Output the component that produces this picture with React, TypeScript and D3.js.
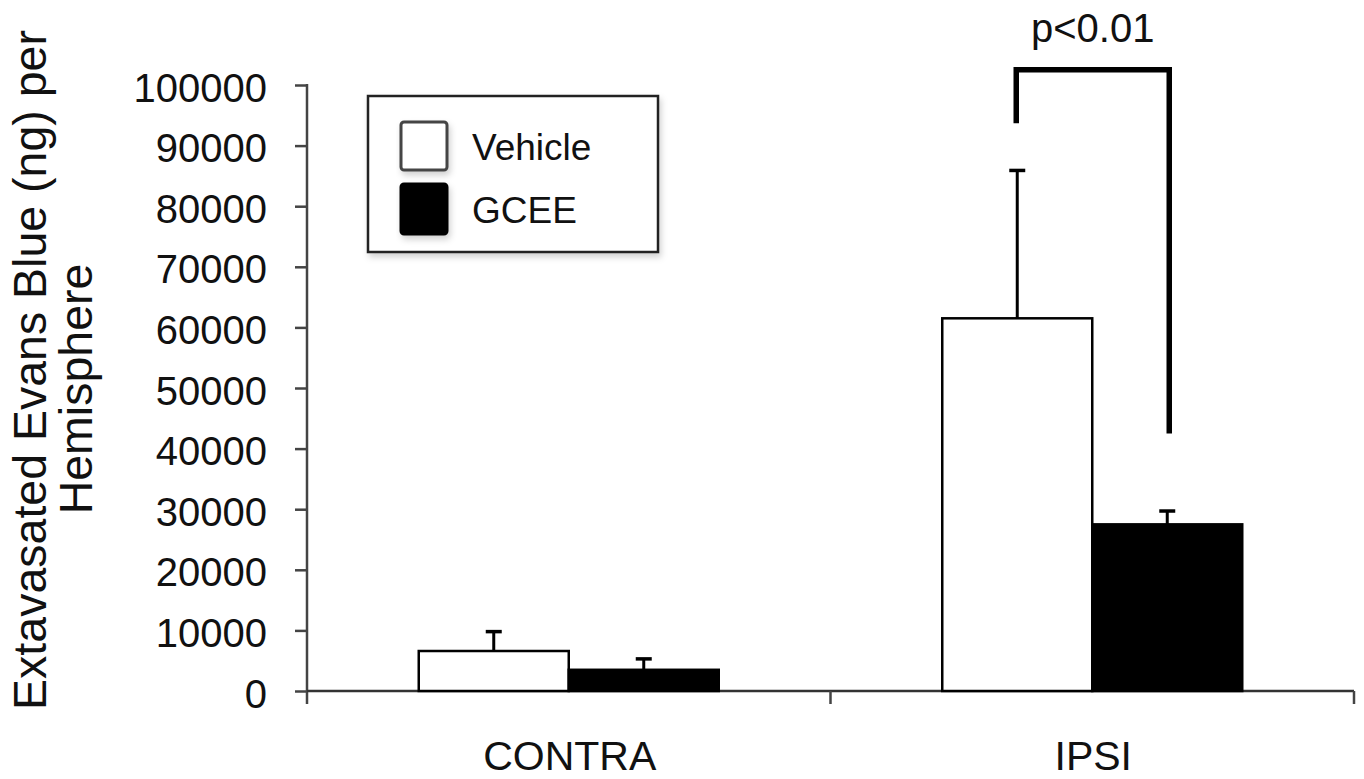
import React, { useRef, useEffect } from "react";
import * as d3 from "d3";

// chart values
const categories = ["CONTRA", "IPSI"];
const seriesNames = ["Vehicle", "GCEE"];
const vehicleMeans = [6600, 61500];
const vehicleErrors = [3200, 24400];
const gceeMeans = [3500, 27500];
const gceeErrors = [1800, 2200];
const yTicks = [0, 10000, 20000, 30000, 40000, 50000, 60000, 70000, 80000, 90000, 100000];
const yTitleLines = ["Extavasated Evans Blue (ng) per", "Hemisphere"];
const sigLabel = "p<0.01";
// bracket: top level, left leg end, right leg end
const sigLevels = [102500, 93700, 42500];

const FONT = "'Liberation Sans', Arial, sans-serif";

const App = () => {
  const chartRef = useRef<HTMLDivElement>(null);

  useEffect(() => {
    const width = 1364;
    const height = 779;
    const left = 307;
    const right = 1354;
    const bottom = 691;
    const top = 85;

    const root = d3.select(chartRef.current);
    root.selectAll("*").remove();

    const svg = root
      .append("svg")
      .attr("width", width)
      .attr("height", height)
      .style("position", "absolute")
      .style("left", 0)
      .style("top", 0)
      .style("background", "#fff")
      .style("font-family", FONT);

    const defs = svg.append("defs");
    const shadow = defs.append("filter").attr("id", "soft").attr("x", "-10%").attr("y", "-10%").attr("width", "130%").attr("height", "140%");
    shadow.append("feDropShadow").attr("dx", 2).attr("dy", 4).attr("stdDeviation", 3).attr("flood-color", "#000").attr("flood-opacity", 0.18);

    const xScale = d3.scaleBand<string>().domain(categories).range([left, right]);
    const barWidth = 150;
    const inner = d3
      .scaleBand<string>()
      .domain(seriesNames)
      .range([xScale.bandwidth() / 2 - barWidth, xScale.bandwidth() / 2 + barWidth]);

    const yScale = d3.scaleLinear().domain([0, 100000]).range([bottom, top]);

    // y axis
    const yAxis = d3
      .axisLeft(yScale)
      .tickValues(yTicks)
      .tickSize(12)
      .tickPadding(28)
      .tickFormat((d) => String(d));
    const gy = svg.append("g").attr("transform", `translate(${left},0)`).call(yAxis);
    gy.select(".domain").remove();
    gy.selectAll("line").attr("stroke", "#444").attr("stroke-width", 2.5);
    gy.selectAll("text")
      .attr("fill", "#111")
      .attr("dy", "0.4em")
      .style("font-size", "40px")
      .style("font-family", FONT);
    svg
      .append("line")
      .attr("x1", left)
      .attr("x2", left)
      .attr("y1", top - 1)
      .attr("y2", bottom + 13)
      .attr("stroke", "#444")
      .attr("stroke-width", 2.5);

    // x axis
    svg
      .append("line")
      .attr("x1", left)
      .attr("x2", right)
      .attr("y1", bottom)
      .attr("y2", bottom)
      .attr("stroke", "#333")
      .attr("stroke-width", 2.5);
    categories.forEach((c, i) => {
      const edge = (xScale(c) as number) + xScale.bandwidth();
      svg
        .append("line")
        .attr("x1", edge)
        .attr("x2", edge)
        .attr("y1", bottom)
        .attr("y2", bottom + 13)
        .attr("stroke", "#444")
        .attr("stroke-width", 2.5);
      svg
        .append("text")
        .attr("x", (xScale(c) as number) + xScale.bandwidth() / 2 + 1)
        .attr("y", 770)
        .attr("text-anchor", "middle")
        .style("font-size", "41px")
        .attr("fill", "#111")
        .text(c);
    });

    // bars + error bars
    const rows = categories.flatMap((c, i) => [
      { cat: c, s: "Vehicle", v: vehicleMeans[i], e: vehicleErrors[i], fill: "#fff" },
      { cat: c, s: "GCEE", v: gceeMeans[i], e: gceeErrors[i], fill: "#000" },
    ]);

    const barX = (d: any) => (xScale(d.cat) as number) + (inner(d.s) as number);

    svg
      .selectAll("rect.bar")
      .data(rows)
      .enter()
      .append("rect")
      .attr("class", "bar")
      .attr("x", barX)
      .attr("y", (d) => yScale(d.v))
      .attr("width", inner.bandwidth())
      .attr("height", (d) => bottom - yScale(d.v))
      .attr("fill", (d) => d.fill)
      .attr("stroke", "#000")
      .attr("stroke-width", 2.5);

    rows.forEach((d) => {
      const cx = barX(d) + inner.bandwidth() / 2;
      svg
        .append("line")
        .attr("x1", cx)
        .attr("x2", cx)
        .attr("y1", yScale(d.v))
        .attr("y2", yScale(d.v + d.e))
        .attr("stroke", "#000")
        .attr("stroke-width", 3);
      svg
        .append("line")
        .attr("x1", cx - 8)
        .attr("x2", cx + 8)
        .attr("y1", yScale(d.v + d.e))
        .attr("y2", yScale(d.v + d.e))
        .attr("stroke", "#000")
        .attr("stroke-width", 3.5);
    });

    // significance bracket over IPSI
    const ipsi = rows.filter((d) => d.cat === "IPSI");
    const lx = barX(ipsi[0]) + inner.bandwidth() / 2 - 1;
    const rx = barX(ipsi[1]) + inner.bandwidth() / 2 + 2;
    const bracket = d3.line<[number, number]>()([
      [lx, yScale(sigLevels[1])],
      [lx, yScale(sigLevels[0])],
      [rx, yScale(sigLevels[0])],
      [rx, yScale(sigLevels[2])],
    ]);
    svg
      .append("path")
      .attr("d", bracket as string)
      .attr("fill", "none")
      .attr("stroke", "#000")
      .attr("stroke-width", 5.5);
    svg
      .append("text")
      .attr("x", (lx + rx) / 2)
      .attr("y", 42)
      .attr("text-anchor", "middle")
      .style("font-size", "40px")
      .attr("fill", "#111")
      .text(sigLabel);

    // legend
    const legend = svg.append("g");
    legend
      .append("rect")
      .attr("x", 368)
      .attr("y", 96)
      .attr("width", 290)
      .attr("height", 156)
      .attr("fill", "#fff")
      .attr("stroke", "#222")
      .attr("stroke-width", 2.5)
      .attr("filter", "url(#soft)");
    seriesNames.forEach((s, i) => {
      legend
        .append("rect")
        .attr("x", 401)
        .attr("y", i === 0 ? 122 : 184)
        .attr("width", 46)
        .attr("height", i === 0 ? 48 : 50)
        .attr("rx", 3)
        .attr("fill", i === 0 ? "#fff" : "#000")
        .attr("stroke", i === 0 ? "#444" : "#000")
        .attr("stroke-width", 3)
        .attr("filter", "url(#soft)");
      legend
        .append("text")
        .attr("x", 472)
        .attr("y", i === 0 ? 160 : 223)
        .style("font-size", "37px")
        .attr("fill", "#111")
        .text(s);
    });

    // y title, two lines
    yTitleLines.forEach((t, i) => {
      svg
        .append("text")
        .attr("transform", `translate(${i === 0 ? 46 : 92},${i === 0 ? 370 : 389}) rotate(-90)`)
        .attr("text-anchor", "middle")
        .style("font-size", "46.5px")
        .attr("fill", "#111")
        .text(t);
    });
  }, []);

  return <div ref={chartRef}></div>;
};

export default App;
